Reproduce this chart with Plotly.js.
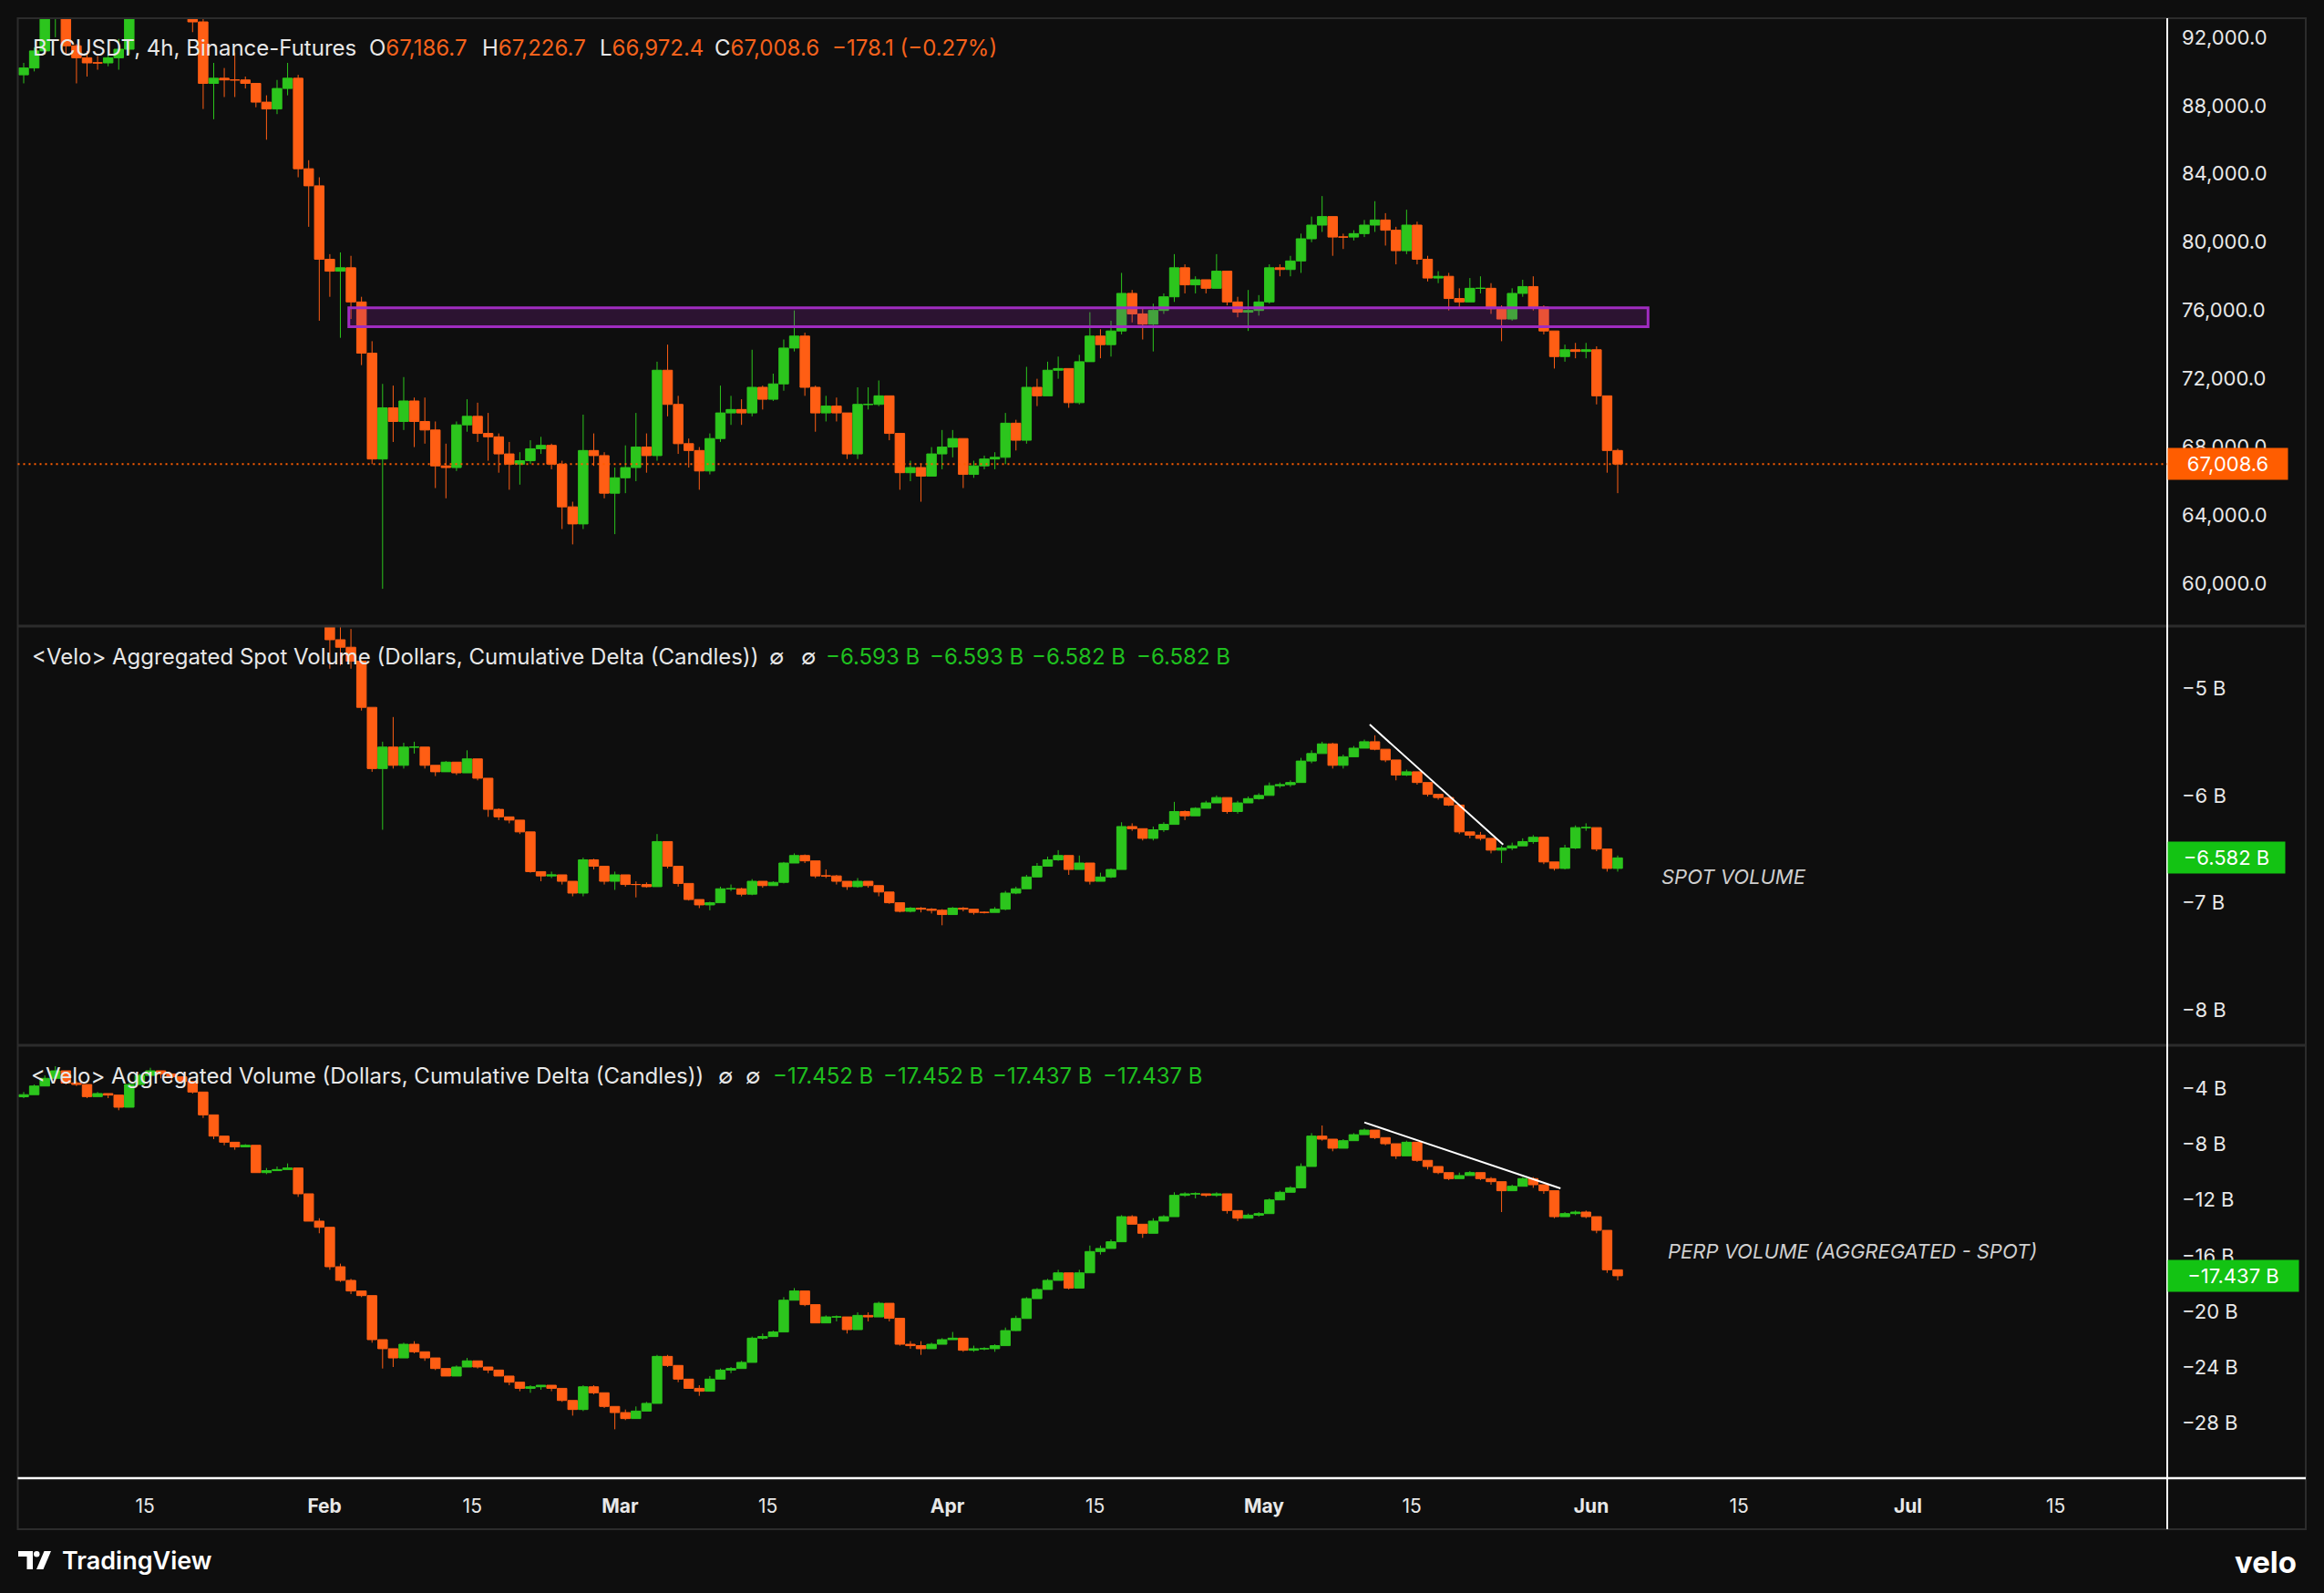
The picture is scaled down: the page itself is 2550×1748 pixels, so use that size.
<!DOCTYPE html>
<html><head><meta charset="utf-8">
<script src="https://cdn.plot.ly/plotly-3.0.1.min.js"></script>
<style>html,body{margin:0;padding:0;background:#0e0e0e;}#chart{width:2550px;height:1748px;}</style>
</head><body><div id="chart"></div>
<script>
// ---------- DATA (daily candles; index 0 = 2026-01-03) ----------
const startDate = [2026, 0, 3];
const priceOpenFirst = 89800;
const priceClose = [
 90200,91200,93300,93500,91500,90800,90500,90500,90800,91300,
 94500,96800,95600,95500,95200,95000,92900,89300,89600,89500,
 89500,89300,88200,87800,89000,89600,84300,83300,79000,78300,
 78500,76500,73500,67300,70300,69500,70700,69500,69000,66900,
 66800,69300,69800,68800,68600,67600,67000,67200,67900,68100,
 67000,64500,63500,67800,67500,65300,66200,66800,68000,67500,
 72500,70500,68200,67800,66600,68500,70000,70200,70000,71500,
 70800,71700,73800,74500,71500,70000,70400,70000,67600,70500,
 70500,71000,68800,66500,66800,66300,67600,68000,68500,66400,
 66900,67300,67400,69400,68400,71500,71000,72500,72600,70600,
 73000,74500,74000,74800,77000,75800,75200,76000,76800,78500,
 77500,77800,77300,78300,76500,75900,76000,76500,78500,78400,
 78900,80200,81000,81500,80300,80300,80500,81000,81300,80700,
 79500,81000,79000,77900,78000,76700,76500,77300,77300,76100,
 75500,77000,77400,76200,74800,73300,73700,73600,73700,71000,
 67800,67008.6];
const priceHigh = [
 90500,91400,94500,94500,93600,91600,91200,90900,91000,91900,
 95000,97500,97200,96000,95700,95500,95300,93100,90500,90200,
 91100,89700,89300,88600,89500,90500,89800,84800,83800,79300,
 79400,79200,76800,74200,71700,71600,72100,70900,70900,69500,
 68200,69500,70800,70600,70000,68800,68300,67700,68400,68600,
 68200,67200,64800,69900,68800,67700,66800,68100,70000,68800,
 73000,74000,71000,68500,68000,68800,71600,71000,70800,73700,
 71600,72300,74300,76000,74700,71600,71000,70900,70000,71500,
 71500,71900,71000,68800,67200,67000,68000,69000,69000,68500,
 67200,67500,67700,70000,69600,72700,72000,73000,73300,72600,
 73400,75900,74900,75400,78200,77200,76100,76400,77000,79300,
 78700,78000,77800,79300,78300,76800,77200,76900,78700,78700,
 79200,80500,81500,82700,81500,80500,80700,81300,82400,81700,
 80900,81900,81200,79200,78300,78200,77300,77900,78000,77600,
 76300,77300,77800,78000,76300,74800,74000,74100,74100,73900,
 71000,67900];
const priceLow = [
 89300,90000,91000,92000,91000,89300,89700,90100,90300,90100,
 91000,94300,95000,94800,94900,94300,92300,87800,87200,88500,
 88500,89000,87900,86000,87500,88600,83800,80900,75400,76800,
 74400,75500,72800,67000,59700,68300,69000,68000,68200,65600,
 65000,66600,68900,68300,67200,66500,65500,65800,67000,67600,
 66700,63200,62300,63200,66900,65000,62900,65300,66000,66500,
 67200,69800,67600,66800,65500,66400,68300,69300,69300,69800,
 70200,70700,71300,73600,71000,68900,69500,69500,67300,67300,
 70200,70400,68400,65500,66000,64800,66300,66700,67400,65600,
 66200,66700,66700,67000,67800,68200,70400,71000,72000,70300,
 70500,73000,73200,73300,74600,75300,74300,73600,75800,76500,
 77000,77000,77000,77300,76300,75600,74800,75700,76400,78000,
 78000,78200,80000,80600,79200,79600,80100,80300,80600,79800,
 78700,79300,78700,77700,77600,76000,76100,76500,77000,75800,
 74200,75400,76800,76000,74600,72600,73000,73200,73200,70500,
 66500,65300];

// Spot cumulative delta (billions USD); values before index 25 lie above the pane
const spotOpenFirst = -4.05;
const spotClose = [
 null,null,null,null,null,null,null,null,null,null,
 null,null,null,null,null,null,null,null,null,null,
 null,null,null,null,null,-4.10,-4.15,-4.20,-4.30,-4.55,
 -4.62,-4.75,-5.18,-5.75,-5.55,-5.72,-5.55,-5.55,-5.72,-5.78,
 -5.69,-5.79,-5.66,-5.84,-6.13,-6.20,-6.23,-6.34,-6.71,-6.75,
 -6.74,-6.80,-6.91,-6.60,-6.66,-6.80,-6.74,-6.83,-6.83,-6.85,
 -6.43,-6.66,-6.82,-6.97,-7.02,-7.00,-6.87,-6.87,-6.92,-6.80,
 -6.84,-6.81,-6.63,-6.56,-6.61,-6.75,-6.75,-6.80,-6.85,-6.80,
 -6.84,-6.90,-7.00,-7.08,-7.05,-7.06,-7.07,-7.11,-7.05,-7.06,
 -7.09,-7.09,-7.06,-6.91,-6.87,-6.76,-6.66,-6.60,-6.56,-6.69,
 -6.63,-6.80,-6.76,-6.69,-6.29,-6.31,-6.40,-6.32,-6.27,-6.15,
 -6.19,-6.12,-6.07,-6.02,-6.15,-6.07,-6.03,-6.00,-5.91,-5.90,
 -5.88,-5.68,-5.61,-5.52,-5.72,-5.64,-5.56,-5.50,-5.57,-5.67,
 -5.81,-5.78,-5.88,-5.99,-6.02,-6.09,-6.34,-6.37,-6.40,-6.51,
 -6.49,-6.47,-6.43,-6.39,-6.62,-6.68,-6.49,-6.30,-6.30,-6.50,
 -6.68,-6.582];
const spotHigh = [
 null,null,null,null,null,null,null,null,null,null,
 null,null,null,null,null,null,null,null,null,null,
 null,null,null,null,null,-4.05,-4.08,-4.12,-4.20,-4.30,
 -4.40,-4.45,-4.75,-5.18,-5.50,-5.27,-5.51,-5.50,-5.55,-5.72,
 -5.68,-5.69,-5.58,-5.66,-5.84,-6.12,-6.20,-6.23,-6.34,-6.71,
 -6.71,-6.74,-6.80,-6.58,-6.59,-6.66,-6.71,-6.74,-6.80,-6.81,
 -6.36,-6.43,-6.66,-6.82,-6.97,-6.99,-6.85,-6.83,-6.86,-6.78,
 -6.80,-6.80,-6.62,-6.54,-6.55,-6.61,-6.69,-6.74,-6.80,-6.77,
 -6.80,-6.84,-6.90,-7.00,-7.04,-7.04,-7.05,-7.06,-7.04,-7.04,
 -7.06,-7.08,-7.04,-6.89,-6.85,-6.74,-6.63,-6.57,-6.51,-6.56,
 -6.56,-6.63,-6.72,-6.68,-6.25,-6.26,-6.31,-6.29,-6.25,-6.06,
 -6.14,-6.11,-6.05,-6.00,-6.02,-6.05,-6.01,-5.98,-5.88,-5.88,
 -5.86,-5.65,-5.58,-5.50,-5.51,-5.62,-5.54,-5.48,-5.44,-5.57,
 -5.67,-5.76,-5.78,-5.88,-5.99,-6.02,-6.09,-6.34,-6.34,-6.40,
 -6.47,-6.44,-6.40,-6.37,-6.39,-6.62,-6.46,-6.28,-6.26,-6.30,
 -6.50,-6.56];
const spotLow = [
 null,null,null,null,null,null,null,null,null,null,
 null,null,null,null,null,null,null,null,null,null,
 null,null,null,null,null,-4.15,-4.20,-4.25,-4.35,-4.82,
 -4.79,-4.82,-5.21,-5.78,-6.32,-5.75,-5.75,-5.61,-5.75,-5.82,
 -5.78,-5.81,-5.79,-5.86,-6.20,-6.23,-6.26,-6.36,-6.72,-6.80,
 -6.77,-6.83,-6.94,-6.94,-6.69,-6.83,-6.88,-6.85,-6.95,-6.86,
 -6.85,-6.68,-6.85,-6.98,-7.05,-7.07,-7.00,-6.89,-6.94,-6.93,
 -6.86,-6.84,-6.82,-6.63,-6.63,-6.77,-6.77,-6.83,-6.88,-6.86,
 -6.86,-6.94,-7.01,-7.09,-7.09,-7.09,-7.10,-7.21,-7.11,-7.08,
 -7.11,-7.10,-7.09,-7.07,-6.92,-6.87,-6.76,-6.66,-6.61,-6.74,
 -6.69,-6.83,-6.80,-6.77,-6.69,-6.33,-6.42,-6.42,-6.34,-6.27,
 -6.23,-6.19,-6.12,-6.07,-6.17,-6.17,-6.07,-6.04,-6.00,-5.93,
 -5.92,-5.88,-5.70,-5.61,-5.75,-5.75,-5.64,-5.56,-5.58,-5.69,
 -5.86,-5.82,-5.90,-6.01,-6.04,-6.10,-6.36,-6.40,-6.42,-6.54,
 -6.63,-6.51,-6.47,-6.45,-6.64,-6.70,-6.69,-6.50,-6.33,-6.52,
 -6.71,-6.71];

// Aggregated (perp) cumulative delta (billions USD)
const perpOpenFirst = -4.60;
const perpClose = [
 -4.45,-3.83,-3.28,-2.74,-3.61,-3.72,-4.59,-4.37,-4.48,-5.35,
 -3.72,-3.07,-2.74,-2.96,-3.17,-3.50,-4.26,-5.90,-7.42,-7.86,
 -8.19,-8.08,-10.04,-9.90,-9.82,-9.71,-11.56,-13.52,-13.96,-16.79,
 -17.77,-18.53,-18.86,-22.02,-22.67,-23.33,-22.35,-22.89,-23.33,-24.09,
 -24.63,-23.98,-23.54,-23.98,-24.20,-24.63,-25.07,-25.51,-25.40,-25.29,
 -25.51,-26.38,-27.03,-25.40,-25.83,-26.81,-27.25,-27.68,-27.14,-26.59,
 -23.22,-23.87,-24.85,-25.51,-25.72,-24.85,-24.20,-24.09,-23.65,-21.91,
 -21.80,-21.47,-19.19,-18.53,-19.51,-20.82,-20.39,-20.39,-21.30,-20.28,
 -20.39,-19.41,-20.49,-22.35,-22.45,-22.67,-22.35,-22.02,-21.91,-22.78,
 -22.67,-22.67,-22.45,-21.37,-20.50,-19.08,-18.42,-17.77,-17.23,-18.32,
 -17.23,-15.70,-15.48,-15.00,-13.20,-13.74,-14.39,-13.52,-13.20,-11.67,
 -11.56,-11.56,-11.67,-11.56,-12.76,-13.31,-13.09,-12.98,-12.00,-11.45,
 -11.13,-9.60,-7.42,-7.64,-8.29,-7.75,-7.32,-6.99,-7.53,-7.97,
 -8.84,-7.86,-9.16,-9.60,-10.04,-10.47,-10.25,-10.04,-10.47,-10.69,
 -11.34,-11.02,-10.47,-10.91,-11.34,-13.20,-12.98,-12.87,-13.20,-14.18,
 -17.01,-17.437];
const perpHigh = [
 -4.26,-3.72,-3.07,-2.41,-2.74,-3.50,-3.72,-4.26,-4.37,-4.48,
 -3.61,-2.96,-2.52,-2.74,-2.96,-3.17,-3.50,-4.26,-5.90,-7.42,
 -7.86,-8.00,-8.08,-9.71,-9.60,-9.38,-9.71,-11.56,-13.31,-13.96,
 -16.57,-17.66,-18.53,-18.86,-22.02,-22.67,-22.24,-22.13,-22.89,-23.33,
 -24.09,-23.87,-23.33,-23.54,-23.98,-24.20,-24.63,-25.07,-25.29,-25.29,
 -25.29,-25.51,-26.38,-25.29,-25.29,-25.83,-26.81,-27.03,-26.81,-26.48,
 -23.11,-23.11,-23.87,-24.85,-25.29,-24.63,-24.09,-23.98,-23.54,-21.80,
 -21.58,-21.37,-18.97,-18.32,-18.53,-19.51,-20.28,-20.28,-20.39,-20.06,
 -20.06,-19.30,-19.41,-20.49,-22.13,-22.13,-22.24,-21.91,-21.47,-21.91,
 -22.45,-22.56,-22.35,-21.15,-20.30,-18.97,-18.32,-17.66,-17.01,-17.23,
 -17.01,-15.27,-15.27,-14.83,-13.09,-13.09,-13.74,-13.31,-13.09,-11.45,
 -11.45,-11.45,-11.56,-11.45,-11.56,-12.76,-12.98,-12.87,-11.89,-11.34,
 -11.02,-9.38,-7.21,-6.66,-7.64,-7.64,-7.21,-6.88,-6.99,-7.53,
 -7.97,-7.75,-7.86,-9.16,-9.60,-10.04,-10.04,-9.93,-10.04,-10.36,
 -10.69,-10.91,-10.36,-10.36,-10.91,-11.34,-12.87,-12.76,-12.76,-13.20,
 -14.18,-17.01];
const perpLow = [
 -4.70,-4.45,-3.83,-3.28,-3.72,-3.83,-4.70,-4.59,-4.70,-5.57,
 -5.35,-3.72,-3.17,-3.28,-3.50,-3.61,-4.37,-6.12,-7.64,-8.08,
 -8.40,-8.19,-10.04,-10.15,-9.93,-9.82,-11.78,-13.52,-14.39,-17.01,
 -17.88,-18.75,-18.97,-22.24,-24.09,-23.98,-23.33,-23.00,-23.54,-24.20,
 -24.63,-24.63,-23.98,-24.09,-24.42,-24.63,-25.29,-25.72,-25.83,-25.61,
 -25.72,-26.48,-27.47,-27.14,-25.94,-26.92,-28.45,-27.79,-27.68,-27.14,
 -26.59,-23.98,-25.07,-25.51,-26.05,-25.72,-24.85,-24.42,-24.09,-23.65,
 -22.02,-21.80,-21.47,-19.19,-19.62,-20.82,-20.82,-20.71,-21.58,-21.30,
 -20.71,-20.39,-20.71,-22.45,-22.67,-23.11,-22.67,-22.35,-22.02,-22.89,
 -22.89,-22.78,-22.89,-22.45,-21.40,-20.50,-19.08,-18.42,-17.77,-18.42,
 -18.32,-17.23,-15.92,-15.48,-15.00,-13.74,-14.72,-14.39,-13.52,-13.20,
 -11.78,-11.89,-11.78,-11.78,-12.98,-13.52,-13.31,-13.20,-12.98,-12.00,
 -11.45,-11.13,-9.60,-7.75,-8.51,-8.29,-7.75,-7.32,-7.64,-8.08,
 -9.06,-8.84,-9.27,-9.82,-10.15,-10.58,-10.47,-10.25,-10.58,-10.91,
 -12.87,-11.34,-11.02,-11.13,-11.56,-13.31,-13.20,-13.09,-13.31,-14.39,
 -17.23,-17.77];

// axis ticks and header texts
const priceTicks = [60000,64000,68000,72000,76000,80000,84000,88000,92000];
const spotTicks = [-5,-6,-7,-8];
const perpTicks = [-4,-8,-12,-16,-20,-24,-28];
const xTickDates = ['2026-01-15','2026-02-01','2026-02-15','2026-03-01','2026-03-15','2026-04-01','2026-04-15','2026-05-01','2026-05-15','2026-06-01','2026-06-15','2026-07-01','2026-07-15'];
const xTickLabels = ['15','Feb','15','Mar','15','Apr','15','May','15','Jun','15','Jul','15'];
const priceTitle = 'BTCUSDT, 4h, Binance-Futures';
const priceHeaderLabels = ['O','H','L','C'];
const priceHeaderValues = ['67,186.7','67,226.7','66,972.4','67,008.6'];
const priceChange = '\u2212178.1 (\u22120.27%)';
const spotTitle = '&lt;Velo&gt; Aggregated Spot Volume (Dollars, Cumulative Delta (Candles))';
const spotHeaderValues = ['\u22126.593 B','\u22126.593 B','\u22126.582 B','\u22126.582 B'];
const perpTitle = '&lt;Velo&gt; Aggregated Volume (Dollars, Cumulative Delta (Candles))';
const perpHeaderValues = ['\u221217.452 B','\u221217.452 B','\u221217.437 B','\u221217.437 B'];
const zoneLow = 75050, zoneHigh = 76150;

// ---------- STYLE ----------
const W = 2550, H = 1748;
const px = v => v / W, py = v => 1 - v / H;
const BG = '#0e0e0e', TXT = '#e8e8e8', UP = '#2cc51d', DOWN = '#ff5e14';
const ORANGE = '#ff5d00', GREEN_TAG = '#13c313', GREEN_TXT = '#1fbf1f', VAL_ORANGE = '#f5621c';
const FONT = 'Inter, Roboto, "Noto Sans", sans-serif';
const HFS = 24; // header font size

// ---------- BUILD ----------
function dayStr(i) {
  const d = new Date(Date.UTC(startDate[0], startDate[1], startDate[2] + i, 12));
  return d.toISOString().slice(0, 16).replace('T', ' ');
}
function buildCandles(close, high, low, firstOpen, yaxis) {
  const x = [], o = [], h = [], l = [], c = [];
  let prev = null;
  for (let i = 0; i < close.length; i++) {
    if (close[i] === null) continue;
    const op = prev === null ? firstOpen : prev;
    x.push(dayStr(i)); o.push(op); c.push(close[i]);
    h.push(Math.max(high[i], op, close[i])); l.push(Math.min(low[i], op, close[i]));
    prev = close[i];
  }
  return {
    type: 'candlestick', x: x, open: o, high: h, low: l, close: c,
    xaxis: 'x', yaxis: yaxis, whiskerwidth: 0, hoverinfo: 'skip',
    increasing: {line: {color: UP, width: 1}, fillcolor: UP},
    decreasing: {line: {color: DOWN, width: 1}, fillcolor: DOWN}
  };
}
const traces = [
  buildCandles(priceClose, priceHigh, priceLow, priceOpenFirst, 'y'),
  buildCandles(spotClose, spotHigh, spotLow, spotOpenFirst, 'y2'),
  buildCandles(perpClose, perpHigh, perpLow, perpOpenFirst, 'y3')
];

const lastPrice = priceClose[priceClose.length - 1];
const lastSpot = spotClose[spotClose.length - 1];
const lastPerp = perpClose[perpClose.length - 1];
const fmtPrice = v => new Intl.NumberFormat('en-US', {minimumFractionDigits: 1, maximumFractionDigits: 1}).format(v);
const fmtB = (v, d) => (v < 0 ? '\u2212' : '') + Math.abs(v).toFixed(d) + ' B';

const xDom = [px(19.5), px(2378)];
const axisCommon = {showgrid: false, zeroline: false, showline: false, ticks: '', fixedrange: true};

const ann = [];
function txt(x, y, text, opts) {
  ann.push(Object.assign({xref: 'paper', yref: 'paper', x: px(x), y: py(y), text: text, showarrow: false,
    xanchor: 'left', yanchor: 'middle', font: {family: FONT, size: HFS, color: TXT}}, opts || {}));
}
// price header
txt(34, 52, priceTitle);
const phx = [403, 527, 656, 782];
priceHeaderLabels.forEach((lab, i) => txt(phx[i], 52, lab + '<span style="color:' + VAL_ORANGE + '">' + priceHeaderValues[i] + '</span>'));
txt(911, 52, priceChange, {font: {family: FONT, size: HFS, color: VAL_ORANGE}});
// spot header
txt(33, 720, spotTitle);
txt(842, 720, '\u2205'); txt(877, 720, '\u2205');
[904, 1018, 1130, 1245].forEach((x, i) => txt(x, 720, spotHeaderValues[i], {font: {family: FONT, size: HFS, color: GREEN_TXT}}));
// perp header
txt(32, 1180, perpTitle);
txt(786, 1180, '\u2205'); txt(816, 1180, '\u2205');
[846, 967, 1087, 1208].forEach((x, i) => txt(x, 1180, perpHeaderValues[i], {font: {family: FONT, size: HFS, color: GREEN_TXT}}));

// last value tags on the right scale
function tag(yref, yval, text, bg, w) {
  ann.push({xref: 'paper', yref: yref, x: px(2378), y: yval, xanchor: 'left', yanchor: 'middle', showarrow: false,
    text: text, bgcolor: bg, borderpad: 3, width: w, height: 28, align: 'center',
    font: {family: FONT, size: 22, color: '#ffffff'}});
}
tag('y', lastPrice, fmtPrice(lastPrice), ORANGE, 125);
tag('y2', lastSpot, fmtB(lastSpot, 3), GREEN_TAG, 122);
tag('y3', lastPerp, fmtB(lastPerp, 3), GREEN_TAG, 137);

// drawn notes
ann.push({xref: 'x', yref: 'y2', x: '2026-06-07 11:00', y: -6.755, xanchor: 'left', yanchor: 'middle', showarrow: false,
  text: 'SPOT VOLUME', font: {family: FONT, size: 22, color: '#cfcfcf', style: 'italic'}});
ann.push({xref: 'x', yref: 'y3', x: '2026-06-08 01:00', y: -15.68, xanchor: 'left', yanchor: 'middle', showarrow: false,
  text: 'PERP VOLUME (AGGREGATED - SPOT)', font: {family: FONT, size: 22, color: '#cfcfcf', style: 'italic'}});

// footer
txt(66, 1712, 'TradingView', {font: {family: FONT, size: 27, color: '#ffffff', weight: 600}});
txt(2450, 1714, 'velo', {font: {family: FONT, size: 33, color: '#ffffff', weight: 700}});

function pathPx(pts) { return 'M ' + pts.map(p => px(p[0]).toFixed(5) + ',' + py(p[1]).toFixed(5)).join(' L ') + ' Z'; }
const shapes = [
  // frame and pane separators
  {type: 'rect', xref: 'paper', yref: 'paper', x0: px(19.5), x1: px(2530), y0: py(1678), y1: py(20), line: {color: '#2c2c2c', width: 2}},
  {type: 'line', xref: 'paper', yref: 'paper', x0: px(19.5), x1: px(2530), y0: py(687), y1: py(687), line: {color: '#2c2c2c', width: 3}},
  {type: 'line', xref: 'paper', yref: 'paper', x0: px(19.5), x1: px(2530), y0: py(1147), y1: py(1147), line: {color: '#2c2c2c', width: 3}},
  {type: 'line', xref: 'paper', yref: 'paper', x0: px(2378), x1: px(2378), y0: py(1678), y1: py(20), line: {color: '#ffffff', width: 2}},
  {type: 'line', xref: 'paper', yref: 'paper', x0: px(19.5), x1: px(2530), y0: py(1622), y1: py(1622), line: {color: '#ffffff', width: 2.5}},
  // zone rectangle
  {type: 'rect', xref: 'x', yref: 'y', x0: '2026-02-03 07:12', x1: '2026-06-06 09:00', y0: zoneLow, y1: zoneHigh,
   line: {color: '#a02cc0', width: 3}, fillcolor: 'rgba(156,39,176,0.22)', layer: 'above'},
  // last price dotted line
  {type: 'line', xref: 'paper', yref: 'y', x0: px(19.5), x1: px(2378), y0: lastPrice, y1: lastPrice,
   line: {color: ORANGE, width: 2, dash: '2px,4px'}},
  // trend lines
  {type: 'line', xref: 'x', yref: 'y2', x0: '2026-05-11 00:15', y0: -5.34, x1: '2026-05-23 15:36', y1: -6.458, line: {color: '#ffffff', width: 2}},
  {type: 'line', xref: 'x', yref: 'y3', x0: '2026-05-10 12:00', y0: -6.44, x1: '2026-05-29 02:00', y1: -11.17, line: {color: '#ffffff', width: 2}},
  // TradingView logo
  {type: 'path', xref: 'paper', yref: 'paper', path: pathPx([[20,1702],[36,1702],[36,1722],[29.5,1722],[29.5,1708],[20,1708]]), fillcolor: '#ffffff', line: {width: 0}},
  {type: 'circle', xref: 'paper', yref: 'paper', x0: px(37), x1: px(43.5), y0: py(1708.5), y1: py(1702), fillcolor: '#ffffff', line: {width: 0}},
  {type: 'path', xref: 'paper', yref: 'paper', path: pathPx([[40,1722],[47.5,1722],[56,1702],[48.5,1702]]), fillcolor: '#ffffff', line: {width: 0}}
];

const layout = {
  width: W, height: H, paper_bgcolor: BG, plot_bgcolor: BG, showlegend: false,
  margin: {l: 0, r: 0, t: 0, b: 0, pad: 0},
  boxmode: 'overlay', boxgap: 0.05, boxgroupgap: 0.05,
  font: {family: FONT, color: TXT, size: 21},
  xaxis: Object.assign({}, axisCommon, {domain: xDom, anchor: 'y3', type: 'date',
    range: ['2026-01-02 22:32', '2026-07-25 13:26'],
    tickvals: xTickDates, ticktext: xTickLabels.map(t => /^\d+$/.test(t) ? t : '<b>' + t + '</b>'),
    tickfont: {family: FONT, size: 21, color: TXT}, ticklabelstandoff: 16, rangeslider: {visible: false}}),
  yaxis: Object.assign({}, axisCommon, {domain: [py(687), py(20)], anchor: 'x', side: 'right',
    range: [57517, 93115], tickvals: priceTicks, tickformat: ',.1f', ticklabelstandoff: 15,
    tickfont: {family: FONT, size: 22, color: TXT}}),
  yaxis2: Object.assign({}, axisCommon, {domain: [py(1147), py(687)], anchor: 'x', side: 'right',
    range: [-8.3277, -4.4228], tickvals: spotTicks, ticktext: spotTicks.map(v => fmtB(v, 0)), ticklabelstandoff: 15,
    tickfont: {family: FONT, size: 22, color: TXT}}),
  yaxis3: Object.assign({}, axisCommon, {domain: [py(1622), py(1147)], anchor: 'x', side: 'right',
    range: [-31.954, -0.9085], tickvals: perpTicks, ticktext: perpTicks.map(v => fmtB(v, 0)), ticklabelstandoff: 15,
    tickfont: {family: FONT, size: 22, color: TXT}}),
  shapes: shapes,
  annotations: ann
};

Plotly.newPlot('chart', traces, layout, {displayModeBar: false, staticPlot: true});
</script>
</body></html>
